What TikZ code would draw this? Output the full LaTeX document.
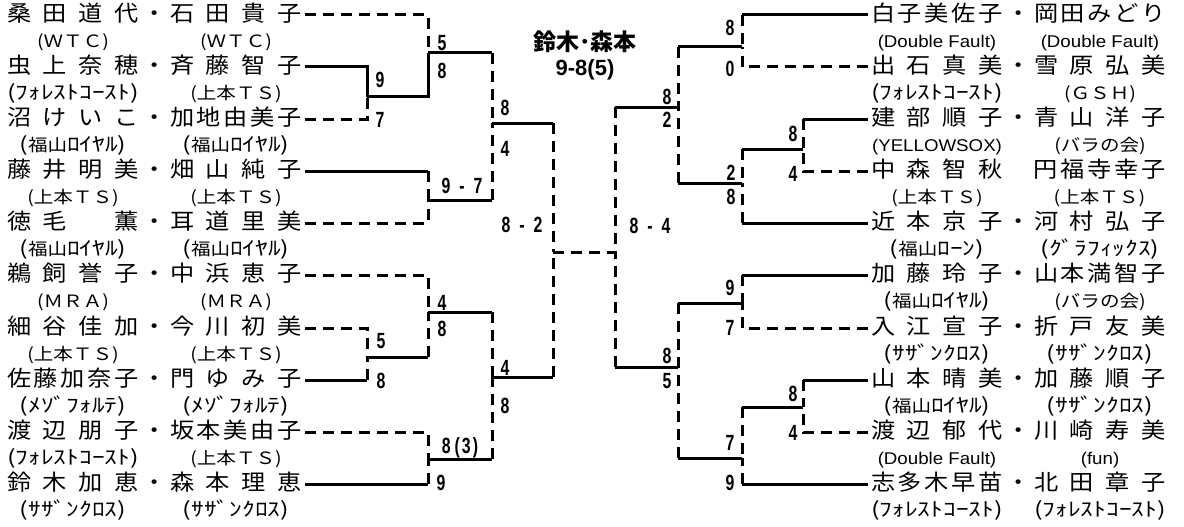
\documentclass[tikz,border=0pt]{standalone}
\usepackage{fontspec}
\setmainfont{Liberation Sans}
\newfontfamily\jp[FakeStretch=1.1]{Noto Sans CJK JP}
\newfontfamily\jpc[FakeStretch=1.15]{Noto Sans CJK JP}
\newfontfamily\kana[FakeStretch=1.3,Scale=1.15]{Noto Sans CJK JP}
\newfontfamily\jpb{Noto Sans CJK JP}
\newfontfamily\latc[FakeStretch=1.1]{Liberation Sans}
\newfontfamily\scf[FakeStretch=0.72]{Liberation Sans}
\usetikzlibrary{positioning}

\begin{document}
\begin{tikzpicture}[x=1pt,y=-1pt,
  nm/.style={font=\jp\fontsize{22}{22}\selectfont,text width=132pt,
             inner xsep=3pt,inner ysep=0pt,text height=17pt,text depth=4pt},
  dt/.style={font=\jp\fontsize{22}{22}\selectfont,inner sep=0pt,
             text height=17pt,text depth=4pt},
  club/.style={font=\jpc\fontsize{17}{17}\selectfont,inner sep=0pt,
               text height=13pt,text depth=4pt},
  kclub/.style={club,font=\kana\fontsize{17}{17}\selectfont},
  score/.style={font=\scf\bfseries\fontsize{22}{22}\selectfont,inner sep=0pt,
                text height=16pt,text depth=0pt},
  win/.style={line width=3pt},
  lose/.style={line width=3pt,dash pattern=on 11pt off 7pt}]
  \useasboundingbox (0,0) rectangle (1184,527);
  % left block
  \node[nm] (la1) at (73,15) {桑\hfill 田\hfill 道\hfill 代};
  \node[dt,right=0pt of la1] (ld1) {・};
  \node[nm,right=0pt of ld1] (lb1) {石\hfill 田\hfill 貴\hfill 子};
  \node[club,below=9pt of la1] (lc1) {(ＷＴＣ)};
  \node[club,below=9pt of lb1] (le1) {(ＷＴＣ)};
  \node[nm] (la2) at (73,67) {虫\hfill 上\hfill 奈\hfill 穂};
  \node[dt,right=0pt of la2] (ld2) {・};
  \node[nm,right=0pt of ld2] (lb2) {斉\hfill 藤\hfill 智\hfill 子};
  \node[kclub,below=9pt of la2] (lc2) {(ﾌｫﾚｽﾄｺｰｽﾄ)};
  \node[club,below=9pt of lb2] (le2) {(上本ＴＳ)};
  \node[nm] (la3) at (73,119) {沼\hfill け\hfill い\hfill こ};
  \node[dt,right=0pt of la3] (ld3) {・};
  \node[nm,right=0pt of ld3] (lb3) {加\hfill 地\hfill 由\hfill 美\hfill 子};
  \node[kclub,below=9pt of la3] (lc3) {({\jpc 福山}ﾛｲﾔﾙ)};
  \node[kclub,below=9pt of lb3] (le3) {({\jpc 福山}ﾛｲﾔﾙ)};
  \node[nm] (la4) at (73,171) {藤\hfill 井\hfill 明\hfill 美};
  \node[dt,right=0pt of la4] (ld4) {・};
  \node[nm,right=0pt of ld4] (lb4) {畑\hfill 山\hfill 純\hfill 子};
  \node[club,below=9pt of la4] (lc4) {(上本ＴＳ)};
  \node[club,below=9pt of lb4] (le4) {(上本ＴＳ)};
  \node[nm] (la5) at (73,223) {徳\hfill 毛\hfill 　\hfill 薫};
  \node[dt,right=0pt of la5] (ld5) {・};
  \node[nm,right=0pt of ld5] (lb5) {耳\hfill 道\hfill 里\hfill 美};
  \node[kclub,below=9pt of la5] (lc5) {({\jpc 福山}ﾛｲﾔﾙ)};
  \node[kclub,below=9pt of lb5] (le5) {({\jpc 福山}ﾛｲﾔﾙ)};
  \node[nm] (la6) at (73,275) {鵜\hfill 飼\hfill 誉\hfill 子};
  \node[dt,right=0pt of la6] (ld6) {・};
  \node[nm,right=0pt of ld6] (lb6) {中\hfill 浜\hfill 恵\hfill 子};
  \node[club,below=9pt of la6] (lc6) {(ＭＲＡ)};
  \node[club,below=9pt of lb6] (le6) {(ＭＲＡ)};
  \node[nm] (la7) at (73,328) {細\hfill 谷\hfill 佳\hfill 加};
  \node[dt,right=0pt of la7] (ld7) {・};
  \node[nm,right=0pt of ld7] (lb7) {今\hfill 川\hfill 初\hfill 美};
  \node[club,below=9pt of la7] (lc7) {(上本ＴＳ)};
  \node[club,below=9pt of lb7] (le7) {(上本ＴＳ)};
  \node[nm] (la8) at (73,380) {佐\hfill 藤\hfill 加\hfill 奈\hfill 子};
  \node[dt,right=0pt of la8] (ld8) {・};
  \node[nm,right=0pt of ld8] (lb8) {門\hfill ゆ\hfill み\hfill 子};
  \node[kclub,below=9pt of la8] (lc8) {(ﾒｿﾞﾌｫﾙﾃ)};
  \node[kclub,below=9pt of lb8] (le8) {(ﾒｿﾞﾌｫﾙﾃ)};
  \node[nm] (la9) at (73,432) {渡\hfill 辺\hfill 朋\hfill 子};
  \node[dt,right=0pt of la9] (ld9) {・};
  \node[nm,right=0pt of ld9] (lb9) {坂\hfill 本\hfill 美\hfill 由\hfill 子};
  \node[kclub,below=9pt of la9] (lc9) {(ﾌｫﾚｽﾄｺｰｽﾄ)};
  \node[club,below=9pt of lb9] (le9) {(上本ＴＳ)};
  \node[nm] (la10) at (73,484) {鈴\hfill 木\hfill 加\hfill 恵};
  \node[dt,right=0pt of la10] (ld10) {・};
  \node[nm,right=0pt of ld10] (lb10) {森\hfill 本\hfill 理\hfill 恵};
  \node[kclub,below=9pt of la10] (lc10) {(ｻｻﾞﾝｸﾛｽ)};
  \node[kclub,below=9pt of lb10] (le10) {(ｻｻﾞﾝｸﾛｽ)};
  % right block
  \node[nm] (ra1) at (937,15) {白\hfill 子\hfill 美\hfill 佐\hfill 子};
  \node[dt,right=0pt of ra1] (rd1) {・};
  \node[nm,right=0pt of rd1] (rb1) {岡\hfill 田\hfill み\hfill ど\hfill り};
  \node[club,below=9pt of ra1] (rc1) {\latc (Double Fault)};
  \node[club,below=9pt of rb1] (re1) {\latc (Double Fault)};
  \node[nm] (ra2) at (937,67) {出\hfill 石\hfill 真\hfill 美};
  \node[dt,right=0pt of ra2] (rd2) {・};
  \node[nm,right=0pt of rd2] (rb2) {雪\hfill 原\hfill 弘\hfill 美};
  \node[kclub,below=9pt of ra2] (rc2) {(ﾌｫﾚｽﾄｺｰｽﾄ)};
  \node[club,below=9pt of rb2] (re2) {(ＧＳＨ)};
  \node[nm] (ra3) at (937,119) {建\hfill 部\hfill 順\hfill 子};
  \node[dt,right=0pt of ra3] (rd3) {・};
  \node[nm,right=0pt of rd3] (rb3) {青\hfill 山\hfill 洋\hfill 子};
  \node[club,below=9pt of ra3] (rc3) {\latc (YELLOWSOX)};
  \node[club,below=9pt of rb3] (re3) {(バラの会)};
  \node[nm] (ra4) at (937,171) {中\hfill 森\hfill 智\hfill 秋};
  \node[nm,right=24pt of ra4] (rb4) {円\hfill 福\hfill 寺\hfill 幸\hfill 子};
  \node[club,below=9pt of ra4] (rc4) {(上本ＴＳ)};
  \node[club,below=9pt of rb4] (re4) {(上本ＴＳ)};
  \node[nm] (ra5) at (937,223) {近\hfill 本\hfill 京\hfill 子};
  \node[dt,right=0pt of ra5] (rd5) {・};
  \node[nm,right=0pt of rd5] (rb5) {河\hfill 村\hfill 弘\hfill 子};
  \node[kclub,below=9pt of ra5] (rc5) {({\jpc 福山}ﾛｰﾝ)};
  \node[kclub,below=9pt of rb5] (re5) {(ｸﾞﾗﾌｨｯｸｽ)};
  \node[nm] (ra6) at (937,275) {加\hfill 藤\hfill 玲\hfill 子};
  \node[dt,right=0pt of ra6] (rd6) {・};
  \node[nm,right=0pt of rd6] (rb6) {山\hfill 本\hfill 満\hfill 智\hfill 子};
  \node[kclub,below=9pt of ra6] (rc6) {({\jpc 福山}ﾛｲﾔﾙ)};
  \node[club,below=9pt of rb6] (re6) {(バラの会)};
  \node[nm] (ra7) at (937,328) {入\hfill 江\hfill 宣\hfill 子};
  \node[dt,right=0pt of ra7] (rd7) {・};
  \node[nm,right=0pt of rd7] (rb7) {折\hfill 戸\hfill 友\hfill 美};
  \node[kclub,below=9pt of ra7] (rc7) {(ｻｻﾞﾝｸﾛｽ)};
  \node[kclub,below=9pt of rb7] (re7) {(ｻｻﾞﾝｸﾛｽ)};
  \node[nm] (ra8) at (937,380) {山\hfill 本\hfill 晴\hfill 美};
  \node[dt,right=0pt of ra8] (rd8) {・};
  \node[nm,right=0pt of rd8] (rb8) {加\hfill 藤\hfill 順\hfill 子};
  \node[kclub,below=9pt of ra8] (rc8) {({\jpc 福山}ﾛｲﾔﾙ)};
  \node[kclub,below=9pt of rb8] (re8) {(ｻｻﾞﾝｸﾛｽ)};
  \node[nm] (ra9) at (937,432) {渡\hfill 辺\hfill 郁\hfill 代};
  \node[dt,right=0pt of ra9] (rd9) {・};
  \node[nm,right=0pt of rd9] (rb9) {川\hfill 崎\hfill 寿\hfill 美};
  \node[club,below=9pt of ra9] (rc9) {\latc (Double Fault)};
  \node[club,below=9pt of rb9] (re9) {\latc (fun)};
  \node[nm] (ra10) at (937,484) {志\hfill 多\hfill 木\hfill 早\hfill 苗};
  \node[dt,right=0pt of ra10] (rd10) {・};
  \node[nm,right=0pt of rd10] (rb10) {北\hfill 田\hfill 章\hfill 子};
  \node[kclub,below=9pt of ra10] (rc10) {(ﾌｫﾚｽﾄｺｰｽﾄ)};
  \node[kclub,below=9pt of rb10] (re10) {(ﾌｫﾚｽﾄｺｰｽﾄ)};
  % match points
  \coordinate (mA) at (367,97);
  \coordinate (mB) at (428,53);
  \coordinate (mC) at (428,200);
  \coordinate (mD) at (492,123);
  \coordinate (mE) at (367,357);
  \coordinate (mF) at (428,312);
  \coordinate (mG) at (428,459);
  \coordinate (mH) at (492,377);
  \coordinate (mI) at (553,252);
  \coordinate (ma) at (742,47);
  \coordinate (mb) at (803,149);
  \coordinate (mc) at (742,183);
  \coordinate (md) at (678,107);
  \coordinate (me) at (742,303);
  \coordinate (mf) at (803,407);
  \coordinate (mg) at (742,458);
  \coordinate (mh) at (678,367);
  \coordinate (mi) at (615,252);
  % left upper
  \draw[lose] (lb1.east) -| (mB);
  \draw[win] (lb2.east) -| (mA);
  \draw[lose] (lb3.east) -| (mA);
  \draw[win] (mA) -- (mA -| mB) -- (mB);
  \draw[win] (mB) -- (mB -| mD);
  \draw[lose] (mB -| mD) -- (mD);
  \draw[win] (lb4.east) -- (lb4.east -| mC);
  \draw[lose] (lb4.east -| mC) -- (mC);
  \draw[lose] (lb5.east) -| (mC);
  \draw[win] (mC) -- (mC -| mD);
  \draw[lose] (mC -| mD) -- (mD);
  \draw[win] (mD) -- (mD -| mI);
  \draw[lose] (mD -| mI) -- (mI);
  % left lower
  \draw[lose] (lb6.east) -| (mF);
  \draw[lose] (lb7.east) -| (mE);
  \draw[win] (lb8.east) -- (lb8.east -| mE);
  \draw[lose] (lb8.east -| mE) -- (mE);
  \draw[win] (mE) -- (mE -| mF);
  \draw[lose] (mE -| mF) -- (mF);
  \draw[win] (mF) -- (mF -| mH);
  \draw[lose] (mF -| mH) -- (mH);
  \draw[lose] (lb9.east) -| (mG);
  \draw[win] (lb10.east) -- (lb10.east -| mG);
  \draw[lose] (lb10.east -| mG) -- (mG);
  \draw[win] (mG) -- (mG -| mH);
  \draw[lose] (mG -| mH) -- (mH);
  \draw[win] (mH) -- (mH -| mI);
  \draw[lose] (mH -| mI) -- (mI);
  % final
  \draw[lose] (mI) -- (mi);
  % right upper
  \draw[win] (ra1.west) -- (ra1.west -| ma);
  \draw[lose] (ra1.west -| ma) -- (ma);
  \draw[lose] (ra2.west) -| (ma);
  \draw[win] (ma) -- (ma -| md);
  \draw[lose] (ma -| md) -- (md);
  \draw[win] (ra3.west) -- (ra3.west -| mb);
  \draw[lose] (ra3.west -| mb) -- (mb);
  \draw[lose] (ra4.west) -| (mb);
  \draw[win] (mb) -- (mb -| mc);
  \draw[lose] (mb -| mc) -- (mc);
  \draw[win] (ra5.west) -- (ra5.west -| mc);
  \draw[lose] (ra5.west -| mc) -- (mc);
  \draw[win] (mc) -- (mc -| md);
  \draw[lose] (mc -| md) -- (md);
  \draw[win] (md) -- (md -| mi);
  \draw[lose] (md -| mi) -- (mi);
  % right lower
  \draw[win] (ra6.west) -- (ra6.west -| me);
  \draw[lose] (ra6.west -| me) -- (me);
  \draw[lose] (ra7.west) -| (me);
  \draw[win] (me) -- (me -| mh);
  \draw[lose] (me -| mh) -- (mh);
  \draw[win] (ra8.west) -- (ra8.west -| mf);
  \draw[lose] (ra8.west -| mf) -- (mf);
  \draw[lose] (ra9.west) -| (mf);
  \draw[win] (mf) -- (mf -| mg);
  \draw[lose] (mf -| mg) -- (mg);
  \draw[win] (ra10.west) -- (ra10.west -| mg);
  \draw[lose] (ra10.west -| mg) -- (mg);
  \draw[win] (mg) -- (mg -| mh);
  \draw[lose] (mg -| mh) -- (mh);
  \draw[win] (mh) -- (mh -| mi);
  \draw[lose] (mh -| mi) -- (mi);
  % scores left
  \node[score] (sA1) at (380,80) {9};
  \node[score] (sA2) at (380,120) {7};
  \node[score] (sB1) at (442,43) {5};
  \node[score] (sB2) at (442,70) {8};
  \node[score] (sC) at (462,185) {9\hspace{9pt}-\hspace{9pt}7};
  \node[score] (sD1) at (505,107) {8};
  \node[score] (sD2) at (505,148) {4};
  \node[score] (sI) at (522,224) {8\hspace{9pt}-\hspace{9pt}2};
  \node[score] (sF1) at (442,302) {4};
  \node[score] (sF2) at (442,328) {8};
  \node[score] (sE1) at (381,340) {5};
  \node[score] (sE2) at (381,380) {8};
  \node[score] (sH1) at (505,367) {4};
  \node[score] (sH2) at (505,405) {8};
  \node[score] (sG1) at (460,445) {8\hspace{4pt}(\hspace{2pt}3\hspace{2pt})};
  \node[score] (sG2) at (441,482) {9};
  % scores right
  \node[score] (sa1) at (730,28) {8};
  \node[score] (sa2) at (730,69) {0};
  \node[score] (sd1) at (667,97) {8};
  \node[score] (sd2) at (667,120) {2};
  \node[score] (sb1) at (793,133) {8};
  \node[score] (sb2) at (793,173) {4};
  \node[score] (sc1) at (731,172) {2};
  \node[score] (sc2) at (731,196) {8};
  \node[score] (si) at (650,225) {8\hspace{9pt}-\hspace{9pt}4};
  \node[score] (se1) at (730,287) {9};
  \node[score] (se2) at (730,327) {7};
  \node[score] (sh1) at (667,355) {8};
  \node[score] (sh2) at (667,380) {5};
  \node[score] (sf1) at (793,393) {8};
  \node[score] (sf2) at (793,432) {4};
  \node[score] (sg1) at (730,442) {7};
  \node[score] (sg2) at (730,482) {9};
  % winner
  \node[font=\jpb\bfseries\fontsize{23}{23}\selectfont,inner sep=0pt] (champ) at (585,42) {鈴木･森本};
  \node[font=\bfseries\fontsize{22}{22}\selectfont,inner sep=0pt] (champsc) at (585,70) {9-8(5)};
\end{tikzpicture}
\end{document}
